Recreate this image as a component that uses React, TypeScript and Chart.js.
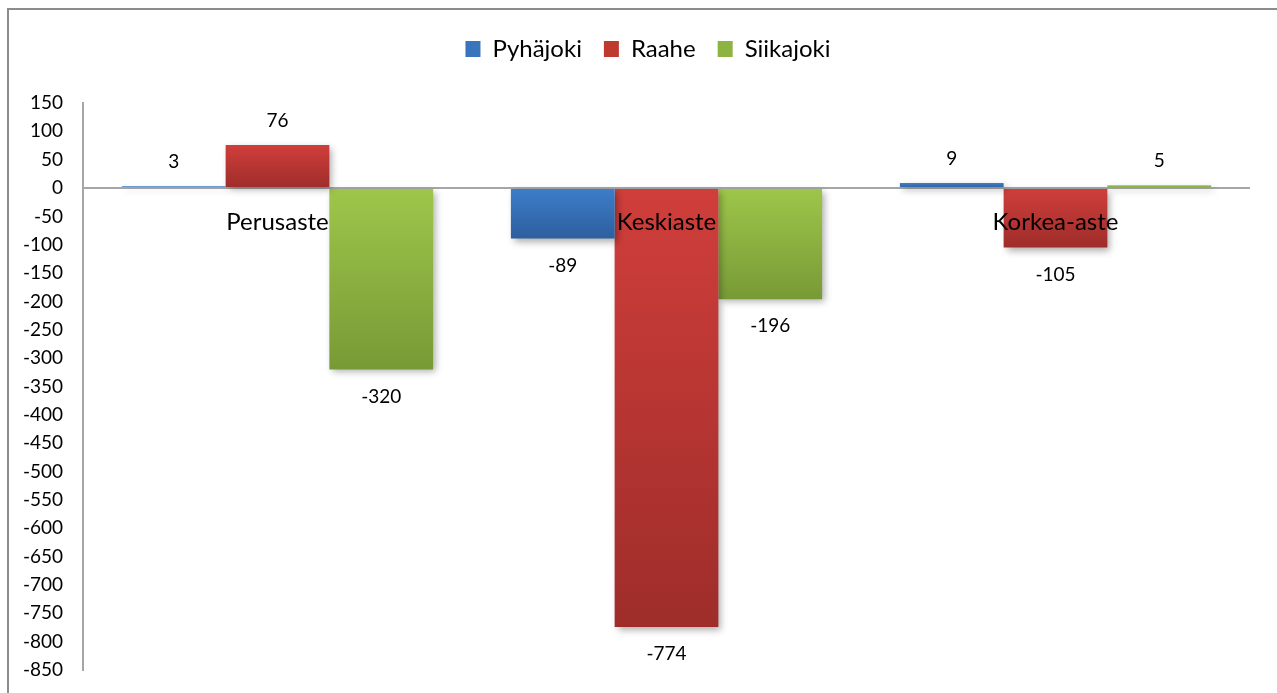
import React, { useEffect, useRef } from 'react';
import { Chart, registerables } from 'chart.js';

Chart.register(...registerables);

// ---- data ----
const categories = ['Perusaste', 'Keskiaste', 'Korkea-aste'];
const seriesNames = ['Pyhäjoki', 'Raahe', 'Siikajoki'];
const pyhajoki = [3, -89, 9];
const raahe = [76, -774, -105];
const siikajoki = [-320, -196, 5];
const yTickMin = -850;
const yTickMax = 150;
const yTickStep = 50;

// ---- styles ----
const FONT = 'Lato, "Open Sans", sans-serif';
const palettes = [
  { top: '#3D7DCA', bottom: '#2D5F9F', solid: '#3A74BC' },
  { top: '#D03E3B', bottom: '#9E2D2A', solid: '#C0392F' },
  { top: '#9EC64A', bottom: '#789A36', solid: '#8DB440' },
];

function gradientFor(pal: { top: string; bottom: string; solid: string }) {
  return (ctx: any) => {
    const chart = ctx.chart;
    const y = chart.scales && chart.scales.y;
    if (!y || ctx.type !== 'data') return pal.solid;
    const v = ctx.raw as number;
    const p0 = y.getPixelForValue(0);
    const p1 = y.getPixelForValue(v);
    if (!isFinite(p0) || !isFinite(p1)) return pal.solid;
    const top = Math.min(p0, p1);
    const bot = Math.max(p0, p1);
    if (bot - top < 1) return pal.top;
    const g = chart.ctx.createLinearGradient(0, top, 0, bot);
    g.addColorStop(0, pal.top);
    g.addColorStop(1, pal.bottom);
    return g;
  };
}

const shadowPlugin = {
  id: 'barShadow',
  beforeDatasetsDraw(chart: any) {
    const c = chart.ctx;
    c.save();
    c.shadowColor = 'rgba(0,0,0,0.32)';
    c.shadowBlur = 7;
    c.shadowOffsetX = 3;
    c.shadowOffsetY = 3;
  },
  afterDatasetsDraw(chart: any) {
    chart.ctx.restore();
  },
};

const valueLabelPlugin = {
  id: 'valueLabels',
  afterDatasetsDraw(chart: any) {
    const c = chart.ctx;
    c.save();
    c.font = `19px ${FONT}`;
    c.fillStyle = '#000';
    c.textAlign = 'center';
    c.textBaseline = 'middle';
    chart.data.datasets.forEach((ds: any, i: number) => {
      const meta = chart.getDatasetMeta(i);
      meta.data.forEach((bar: any, j: number) => {
        const v = ds.data[j] as number;
        const p = bar.getProps(['x', 'y'], true);
        const ty = v >= 0 ? p.y - 24 : p.y + 27;
        c.fillText(String(v), p.x, ty);
      });
    });
    c.restore();
  },
};

const legendSpacer = {
  id: 'legendSpacer',
  beforeLayout(chart: any) {
    const lg = chart.legend;
    if (lg && !lg._spaced) {
      const f = lg.fit;
      lg.fit = function () {
        f.call(this);
        this.height += 32;
      };
      lg._spaced = true;
    }
  },
  afterLayout(chart: any) {
    const lg = chart.legend;
    if (lg) {
      lg.left += 26;
    }
  },
};

export default function App() {
  const ref = useRef<HTMLCanvasElement | null>(null);

  useEffect(() => {
    if (!ref.current) return;
    const series = [pyhajoki, raahe, siikajoki];
    const chart = new Chart(ref.current, {
      type: 'bar',
      data: {
        labels: categories,
        datasets: series.map((d, i) => ({
          label: seriesNames[i],
          data: d,
          backgroundColor: gradientFor(palettes[i]),
          borderWidth: 0,
          categoryPercentage: 0.8,
          barPercentage: 1.0,
        })),
      },
      options: {
        responsive: false,
        animation: false,
        devicePixelRatio: 1,
        layout: { padding: { left: 20, right: 27, top: 15, bottom: 23 } },
        plugins: {
          tooltip: { enabled: false },
          legend: {
            position: 'top',
            align: 'center',
            labels: {
              boxWidth: 15,
              boxHeight: 16,
              padding: 22,
              color: '#000',
              font: { family: FONT, size: 24 },
              generateLabels: () =>
                seriesNames.map((n, i) => ({
                  text: n,
                  fillStyle: palettes[i].solid,
                  strokeStyle: palettes[i].solid,
                  lineWidth: 0,
                  hidden: false,
                  datasetIndex: i,
                })),
            },
          },
        },
        scales: {
          x: {
            type: 'category',
            position: { y: 0 } as any,
            grid: { display: false, drawTicks: false },
            border: { display: false },
            ticks: {
              z: 1,
              padding: 20,
              color: '#000',
              font: { family: FONT, size: 24 },
              maxRotation: 0,
              autoSkip: false,
            },
          },
          y: {
            min: yTickMin,
            max: yTickMax,
            afterFit: (s: any) => {
              s.width = 63;
            },
            ticks: {
              stepSize: yTickStep,
              padding: 3,
              color: '#000',
              font: { family: FONT, size: 19 },
              callback: (v: any) => String(v),
            },
            grid: {
              drawTicks: true,
              tickLength: 17,
              tickColor: 'rgba(0,0,0,0)',
              lineWidth: 2,
              color: (ctx: any) => (ctx.tick && ctx.tick.value === 0 ? '#A6A6A6' : 'rgba(0,0,0,0)'),
            },
            border: { display: true, color: '#A6A6A6', width: 2 },
          },
        },
      },
      plugins: [legendSpacer, shadowPlugin, valueLabelPlugin],
    });
    return () => chart.destroy();
  }, []);

  return (
    <div
      style={{
        position: 'fixed',
        left: 0,
        top: 0,
        width: 1277,
        height: 693,
        background: '#fff',
        overflow: 'hidden',
      }}
    >
      <div
        style={{
          position: 'absolute',
          left: 7,
          top: 8,
          width: 1400,
          height: 800,
          borderLeft: '2px solid #8C8C8C',
          borderTop: '2px solid #8C8C8C',
        }}
      />
      <canvas ref={ref} width={1277} height={693} style={{ position: 'absolute', left: 0, top: 0 }} />
    </div>
  );
}
